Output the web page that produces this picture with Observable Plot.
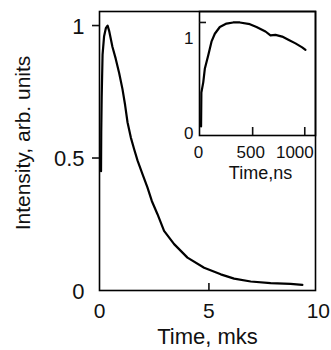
<!DOCTYPE html>
<html><head><meta charset="utf-8">
<script src="https://cdn.jsdelivr.net/npm/d3@7"></script>
<script src="https://cdn.jsdelivr.net/npm/@observablehq/plot@0.6"></script>
<style>
body{margin:0;background:#fff}
#c{position:relative;width:331px;height:350px}
#c svg{position:absolute;left:0;top:0}
</style>
</head><body><div id="c"></div>
<script>
// Main panel: time (mks) vs intensity (arb. units)
const mainTime = [0.07,0.08,0.1,0.14,0.21,0.29,0.37,0.44,0.59,0.74,0.9,1.05,1.17,1.28,1.43,1.58,1.74,1.96,2.19,2.39,2.65,2.95,3.41,4.02,4.78,5.54,6.15,6.91,7.82,8.73,9.27];
const mainIntensity = [0.45,0.6,0.73,0.89,0.96,0.99,1.0,0.98,0.92,0.875,0.82,0.76,0.70,0.635,0.578,0.534,0.49,0.44,0.389,0.338,0.288,0.225,0.175,0.124,0.086,0.061,0.045,0.034,0.028,0.025,0.021];
// Inset: time (ns) vs intensity
const insetTime = [5,8,26,41,74,105,137,185,249,313,377,473,537,623,671,719,783,847,911,975,1007];
const insetIntensity = [0.08,0.38,0.47,0.59,0.71,0.83,0.90,0.96,0.99,1.0,1.0,0.985,0.96,0.92,0.885,0.89,0.875,0.845,0.815,0.78,0.757];

const mainXTicks = [0,5,10];
const mainYTicks = [0,0.5,1];
const insetXTicks = [0,500,1000];
const insetYTicks = [0,1];
const mainXLabel = "Time, mks";
const mainYLabel = "Intensity, arb. units";
const insetXLabel = "Time,ns";

const font = "'Liberation Sans', Arial, Helvetica, sans-serif";
const mainData = mainTime.map((t,i)=>({t, v: mainIntensity[i]}));
const insetData = insetTime.map((t,i)=>({t, v: insetIntensity[i]}));

const main = Plot.plot({
  width: 331, height: 350,
  marginLeft: 99, marginRight: 16, marginTop: 11, marginBottom: 60,
  style: {fontFamily: font, background: "transparent", color: "#111"},
  x: {domain: [0, 9.87], axis: null},
  y: {domain: [0, 1.053], axis: null},
  marks: [
    Plot.frame({stroke: "#000", strokeWidth: 1.6}),
    Plot.axisY(mainYTicks.filter(d => d > 0), {tickSize: 7, tickFormat: () => "", label: null, strokeWidth: 1.6}),
    Plot.tickX(mainXTicks.filter(d => d > 0 && d < 9.87), {x: d => d, insetTop: 272, strokeWidth: 1.6}),
    Plot.text(mainYTicks, {frameAnchor: "left", y: d => d, text: d => String(d), textAnchor: "end", lineAnchor: "middle", dx: -15, dy: 1, fontSize: 22}),
    Plot.text(mainXTicks, {x: d => d, frameAnchor: "bottom", lineAnchor: "middle", dy: 21, text: d => String(d), fontSize: 21}),
    Plot.text([mainXLabel], {frameAnchor: "bottom", textAnchor: "middle", lineAnchor: "middle", dy: 46, fontSize: 22}),
    Plot.text([mainYLabel], {frameAnchor: "left", textAnchor: "middle", lineAnchor: "middle", rotate: -90, dx: -76, dy: -8, fontSize: 21}),
    Plot.line(mainData, {x: "t", y: "v", stroke: "#000", strokeWidth: 2.2, strokeLinejoin: "round"})
  ]
});

const inset = Plot.plot({
  width: 331, height: 200,
  marginLeft: 199, marginRight: 16, marginTop: 11, marginBottom: 65,
  style: {fontFamily: font, background: "transparent", color: "#111"},
  x: {domain: [-10, 1103], axis: null},
  y: {domain: [0, 1.097], axis: null},
  marks: [
    Plot.frame({stroke: "#000", strokeWidth: 1.6}),
    Plot.tickX(insetXTicks.filter(d => d > 0), {x: d => d, insetTop: 116, strokeWidth: 1.6}),
    Plot.tickY(insetYTicks.filter(d => d > 0), {y: d => d, insetRight: 109, strokeWidth: 1.6}),
    Plot.text(insetYTicks.filter(d => d > 0), {frameAnchor: "left", y: d => d, text: d => String(d), textAnchor: "end", lineAnchor: "middle", dx: -6, dy: 16, fontSize: 17}),
    Plot.text(insetYTicks.filter(d => d === 0), {frameAnchor: "left", y: d => d, text: d => String(d), textAnchor: "end", lineAnchor: "middle", dx: -6, dy: -2, fontSize: 17}),
    Plot.text(insetXTicks.filter(d => d < 1000), {x: d => d, frameAnchor: "bottom", lineAnchor: "middle", dy: 17, dx: -2, text: d => String(d), fontSize: 17}),
    Plot.text(insetXTicks.filter(d => d >= 1000), {x: d => d, frameAnchor: "bottom", lineAnchor: "middle", dy: 17, dx: 9, textAnchor: "end", text: d => String(d), fontSize: 17}),
    Plot.text([insetXLabel], {frameAnchor: "bottom", textAnchor: "middle", lineAnchor: "middle", dy: 38, dx: 3, fontSize: 18}),
    Plot.line(insetData, {x: "t", y: "v", stroke: "#000", strokeWidth: 2.2, strokeLinejoin: "round"})
  ]
});

const c = document.getElementById("c");
c.appendChild(main);
c.appendChild(inset);
</script>
</body></html>
